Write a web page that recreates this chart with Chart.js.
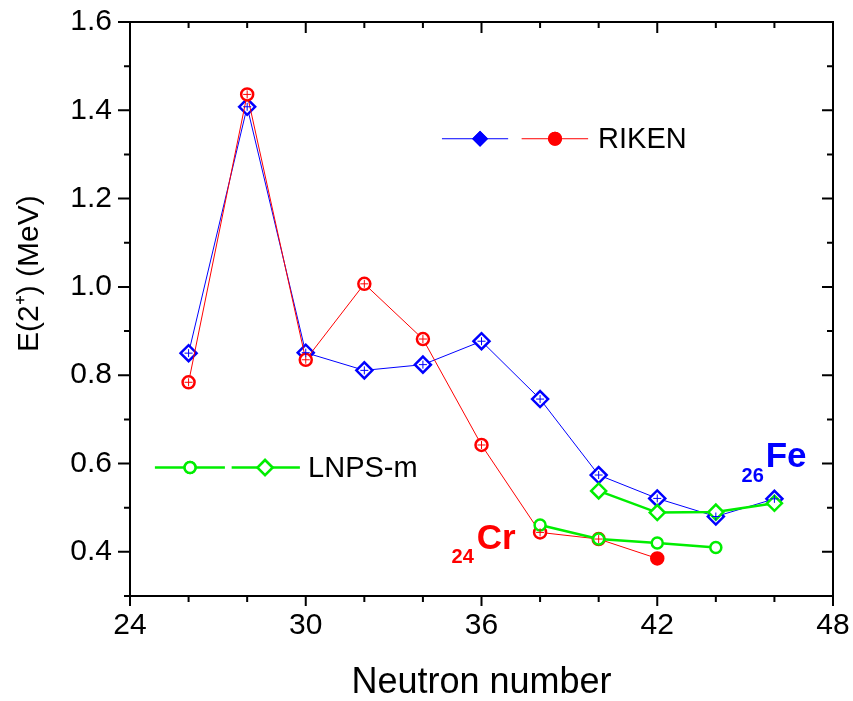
<!DOCTYPE html>
<html>
<head>
<meta charset="utf-8">
<script src="https://cdn.jsdelivr.net/npm/chart.js@4"></script>
<style>
  html, body { margin: 0; padding: 0; background: #fff; }
  #wrap { width: 853px; height: 701px; }
</style>
</head>
<body>
<div id="wrap"><canvas id="e2plot"></canvas></div>
<script>
// neutron numbers
const nFe = [26, 28, 30, 32, 34, 36, 38, 40, 42, 44, 46];
const nCr = [26, 28, 30, 32, 34, 36, 38, 40, 42];
const nCrCalc = [38, 40, 42, 44];
const nFeCalc = [40, 42, 44, 46];

// E(2+) in MeV
const feRiken = [0.85, 1.408, 0.851, 0.811, 0.824, 0.877, 0.746, 0.574, 0.521, 0.48, 0.52];
const crRiken = [0.784, 1.436, 0.835, 1.007, 0.882, 0.642, 0.444, 0.429, 0.385];
const crLnps = [0.461, 0.429, 0.42, 0.41];
const feLnps = [0.538, 0.489, 0.49, 0.51];

const xTicks = [24, 30, 36, 42, 48];
const yTicks = [0.4, 0.6, 0.8, 1.0, 1.2, 1.4, 1.6];

const BLUE = "#0000ff";
const RED = "#ff0000";
const GREEN = "#00ee00";
const FONT = "'Liberation Sans', Arial, sans-serif";

const pts = (xs, ys) => xs.map((x, i) => ({ x: x, y: ys[i] }));

// frame with inner/outer ticks like the origin plot
const framePlugin = {
  id: "frame",
  afterDraw(chart) {
    const { ctx, chartArea: a, scales } = chart;
    const xs = scales.x, ys = scales.y;
    ctx.save();
    ctx.strokeStyle = "#000";
    ctx.lineWidth = 2;
    ctx.beginPath();
    ctx.rect(a.left, a.top, a.right - a.left, a.bottom - a.top);
    ctx.stroke();
    ctx.beginPath();
    for (let v = 24; v <= 48; v += 2) {
      const px = xs.getPixelForValue(v);
      const major = v % 6 === 0;
      ctx.moveTo(px, a.bottom);
      ctx.lineTo(px, a.bottom + (major ? 10 : 6));
      ctx.moveTo(px, a.top);
      ctx.lineTo(px, a.top + (major ? 11 : 6));
    }
    for (let k = 3; k <= 16; k++) {
      const py = ys.getPixelForValue(k / 10);
      const major = k % 2 === 0;
      ctx.moveTo(a.left, py);
      ctx.lineTo(a.left - (major ? 12 : 6), py);
      ctx.moveTo(a.right, py);
      ctx.lineTo(a.right - (major ? 11 : 6), py);
    }
    ctx.stroke();
    ctx.restore();
  }
};

// small error crosses inside the RIKEN markers
const crossPlugin = {
  id: "crosses",
  afterDatasetsDraw(chart) {
    const { ctx } = chart;
    ctx.save();
    chart.data.datasets.forEach((ds, i) => {
      if (!ds.cross) return;
      const meta = chart.getDatasetMeta(i);
      meta.data.forEach((el, j) => {
        if (ds.noCross && ds.noCross.includes(j)) return;
        ctx.strokeStyle = ds.borderColor;
        ctx.lineWidth = 1;
        ctx.beginPath();
        ctx.moveTo(el.x - 4, el.y);
        ctx.lineTo(el.x + 4, el.y);
        ctx.moveTo(el.x, el.y - 4);
        ctx.lineTo(el.x, el.y + 4);
        ctx.stroke();
      });
    });
    ctx.restore();
  }
};

function marker(ctx, style, x, y, r, stroke, fill, lw) {
  Chart.helpers.drawPoint(ctx, { pointStyle: style, radius: r, borderWidth: lw }, x, y);
  ctx.fillStyle = fill;
  ctx.strokeStyle = stroke;
  ctx.lineWidth = lw;
  ctx.fill();
  ctx.stroke();
}

// legends, element labels and y title, placed in data coordinates
const notesPlugin = {
  id: "notes",
  afterDraw(chart) {
    const { ctx } = chart;
    const X = (v) => chart.scales.x.getPixelForValue(v);
    const Y = (v) => chart.scales.y.getPixelForValue(v);
    ctx.save();

    // y title, sitting a bit above the middle as in the original
    ctx.save();
    ctx.translate(30, Y(1.03));
    ctx.rotate(-Math.PI / 2);
    ctx.fillStyle = "#000";
    ctx.font = "30px " + FONT;
    ctx.textAlign = "center";
    ctx.textBaseline = "middle";
    ctx.fillText("E(2⁺) (MeV)", 0, 0);
    ctx.restore();

    // RIKEN
    let ly = Y(1.3356);
    ctx.lineWidth = 1;
    ctx.strokeStyle = BLUE;
    ctx.beginPath(); ctx.moveTo(X(34.65), ly); ctx.lineTo(X(36.91), ly); ctx.stroke();
    ctx.strokeStyle = RED;
    ctx.beginPath(); ctx.moveTo(X(37.37), ly); ctx.lineTo(X(39.64), ly); ctx.stroke();
    ctx.fillStyle = BLUE;
    Chart.helpers.drawPoint(ctx, { pointStyle: "rectRot", radius: 8, borderWidth: 0 }, X(35.95), ly);
    ctx.fill();
    ctx.fillStyle = RED;
    Chart.helpers.drawPoint(ctx, { pointStyle: "circle", radius: 7, borderWidth: 0 }, X(38.51), ly);
    ctx.fill();
    ctx.fillStyle = "#000";
    ctx.font = "29px " + FONT;
    ctx.textBaseline = "alphabetic";
    ctx.fillText("RIKEN", X(39.98), Y(1.315));

    // LNPS-m
    ly = Y(0.591);
    ctx.lineWidth = 2.5;
    ctx.strokeStyle = GREEN;
    ctx.beginPath();
    ctx.moveTo(X(24.85), ly); ctx.lineTo(X(27.24), ly);
    ctx.moveTo(X(27.47), ly); ctx.lineTo(X(29.8), ly);
    ctx.stroke();
    marker(ctx, "circle", X(26.05), ly, 5.5, GREEN, "#fff", 2.5);
    marker(ctx, "rectRot", X(28.61), ly, 7.5, GREEN, "#fff", 2.5);
    ctx.fillStyle = "#000";
    ctx.fillText("LNPS-m", X(30.08), Y(0.5705));

    // 24Cr and 26Fe
    ctx.fillStyle = RED;
    ctx.font = "bold 20px " + FONT;
    ctx.fillText("24", X(34.98), Y(0.3755));
    ctx.font = "bold 35px " + FONT;
    ctx.fillText("Cr", X(35.84), Y(0.406));
    ctx.fillStyle = BLUE;
    ctx.font = "bold 20px " + FONT;
    ctx.fillText("26", X(44.88), Y(0.558));
    ctx.font = "bold 35px " + FONT;
    ctx.fillText("Fe", X(45.7), Y(0.592));
    ctx.restore();
  }
};

const ctx1 = document.getElementById("e2plot");

new Chart(ctx1, {
  type: "line",
  data: {
    datasets: [
      {
        label: "LNPS-m Fe",
        data: pts(nFeCalc, feLnps),
        borderColor: GREEN,
        backgroundColor: "#fff",
        borderWidth: 2.5,
        pointStyle: "rectRot",
        pointRadius: 7.5,
        pointBorderWidth: 2.5,
      },
      {
        label: "LNPS-m Cr",
        data: pts(nCrCalc, crLnps),
        borderColor: GREEN,
        backgroundColor: "#fff",
        borderWidth: 2.5,
        pointStyle: "circle",
        pointRadius: 5.5,
        pointBorderWidth: 2.5,
      },
      {
        label: "RIKEN Cr",
        data: pts(nCr, crRiken),
        borderColor: RED,
        backgroundColor: nCr.map((n) => (n === 42 ? RED : "#fff")),
        borderWidth: 1,
        pointStyle: "circle",
        pointRadius: 6,
        pointBorderWidth: 2.5,
        cross: true,
        noCross: [8],
      },
      {
        label: "RIKEN Fe",
        data: pts(nFe, feRiken),
        borderColor: BLUE,
        backgroundColor: "#fff",
        borderWidth: 1,
        pointStyle: "rectRot",
        pointRadius: 8,
        pointBorderWidth: 2.5,
        cross: true,
      },
    ],
  },
  options: {
    responsive: true,
    maintainAspectRatio: false,
    animation: false,
    layout: { padding: { top: 22, right: 20, left: 0, bottom: 0 } },
    plugins: {
      legend: { display: false },
      tooltip: { enabled: false },
    },
    scales: {
      x: {
        type: "linear",
        min: 24,
        max: 48,
        afterBuildTicks: (s) => { s.ticks = xTicks.map((v) => ({ value: v })); },
        afterFit: (s) => { s.height = 105; s.paddingLeft = 0; s.paddingRight = 0; },
        grid: { display: false, drawTicks: false },
        border: { display: false },
        ticks: {
          color: "#000",
          padding: 12,
          font: { family: FONT, size: 30 },
        },
        title: {
          display: true,
          text: "Neutron number",
          color: "#000",
          font: { family: FONT, size: 36, lineHeight: 1 },
          padding: { top: 0, bottom: 0 },
        },
      },
      y: {
        min: 0.3,
        max: 1.6,
        afterBuildTicks: (s) => { s.ticks = yTicks.map((v) => ({ value: v })); },
        afterFit: (s) => { s.width = 130; s.paddingTop = 0; s.paddingBottom = 0; },
        grid: { display: false, drawTicks: false },
        border: { display: false },
        ticks: {
          color: "#000",
          padding: 18,
          callback: (v) => v.toFixed(1),
          font: { family: FONT, size: 30 },
        },
        title: { display: false },
      },
    },
  },
  plugins: [framePlugin, crossPlugin, notesPlugin],
});
</script>
</body>
</html>
